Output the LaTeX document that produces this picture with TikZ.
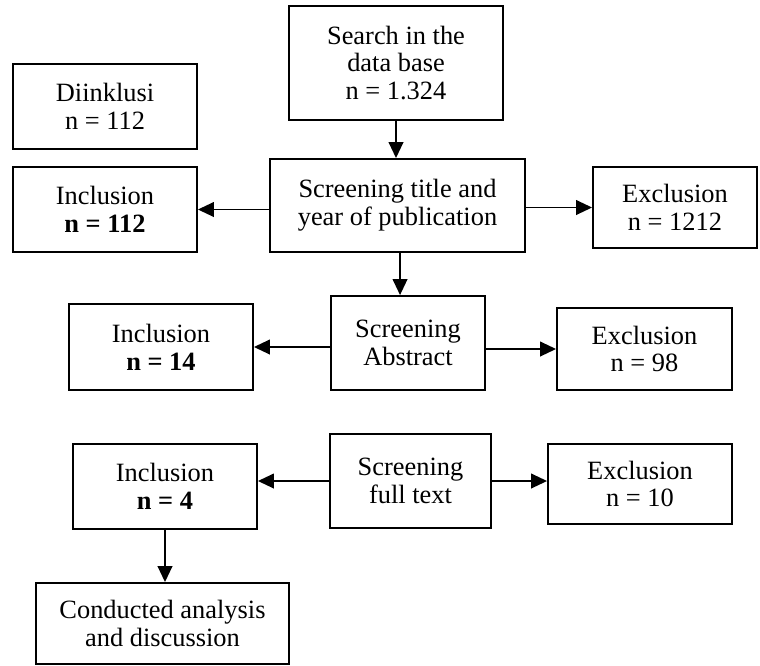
\documentclass[tikz,border=0pt]{standalone}
\usepackage{fontspec}
\setmainfont{Liberation Serif}
\usetikzlibrary{arrows.meta}

\begin{document}
\begin{tikzpicture}[x=0.75pt, y=-0.75pt,
    box/.style={draw, line width=1.4pt, align=center, inner sep=0pt, font=\fontsize{19.8}{20.8}\selectfont},
    arr/.style={-{Triangle[length=12pt,width=11pt]}, line width=1.4pt}]
    \useasboundingbox (0,0) rectangle (760,665);

    \node[box, minimum width=160.5pt, minimum height=85.5pt] (search) at (396,63) {Search in the\\data base\\n = 1.324};
    \node[box, minimum width=138pt, minimum height=63.75pt] (diinklusi) at (105,106.5) {Diinklusi\\n = 112};

    \node[box, minimum width=191.25pt, minimum height=69.75pt] (screen1) at (397.5,205.5) {Screening title and\\year of publication};
    \node[box, minimum width=138pt, minimum height=63.75pt] (incl1) at (105,209.5) {Inclusion\\\textbf{n = 112}};
    \node[box, minimum width=123pt, minimum height=60.75pt] (excl1) at (675,207.5) {Exclusion\\n = 1212};

    \node[box, minimum width=115.5pt, minimum height=70.5pt] (screen2) at (408,343) {Screening\\Abstract};
    \node[box, minimum width=138pt, minimum height=64.5pt] (incl2) at (161,347) {Inclusion\\\textbf{n = 14}};
    \node[box, minimum width=131.25pt, minimum height=61.5pt] (excl2) at (644.5,349) {Exclusion\\n = 98};

    \node[box, minimum width=120.75pt, minimum height=70.5pt] (screen3) at (410.5,481) {Screening\\full text};
    \node[box, minimum width=138pt, minimum height=63.75pt] (incl3) at (165,486.5) {Inclusion\\\textbf{n = 4}};
    \node[box, minimum width=138pt, minimum height=60pt] (excl3) at (640,484) {Exclusion\\n = 10};

    \node[box, minimum width=189.75pt, minimum height=60.75pt] (concl) at (162.5,623.5) {Conducted analysis\\and discussion};

    \draw[arr] (search.south) -- (search.south |- screen1.north);
    \draw[arr] (screen1.west |- incl1.east) -- (incl1.east);
    \draw[arr] (screen1.east |- excl1.west) -- (excl1.west);
    \draw[arr] ([xshift=1.9pt]screen1.south) -- ([xshift=1.9pt]screen1.south |- screen2.north);

    \draw[arr] (screen2.west |- incl2.east) -- (incl2.east);
    \draw[arr] (screen2.east |- excl2.west) -- (excl2.west);

    \draw[arr] (screen3.west) -- (screen3.west -| incl3.east);
    \draw[arr] (screen3.east) -- (screen3.east -| excl3.west);
    \draw[arr] (incl3.south) -- (incl3.south |- concl.north);
  \end{tikzpicture}
\end{document}
